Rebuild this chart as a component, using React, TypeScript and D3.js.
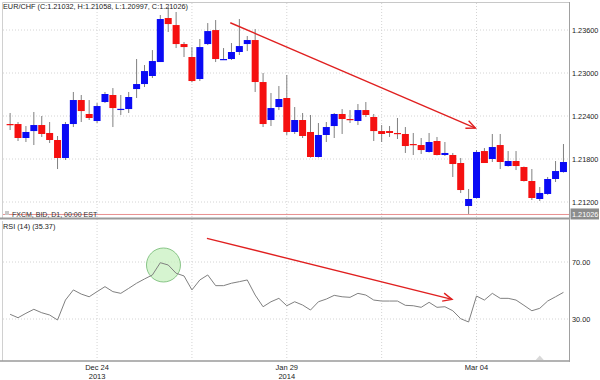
import React from "react";
import * as d3 from "d3";

const opens = [1.22288,1.22288,1.22093,1.2219,1.22274,1.22163,1.22065,1.21814,1.22288,1.22623,1.22428,1.2233,1.22595,1.22693,1.22495,1.22497,1.22776,1.22846,1.22958,1.23153,1.23767,1.23669,1.23404,1.23223,1.22916,1.23404,1.23599,1.2319,1.23195,1.23293,1.23404,1.2346,1.22874,1.22344,1.22525,1.22651,1.22177,1.22344,1.22177,1.21828,1.22135,1.2226,1.22428,1.22358,1.2233,1.22483,1.22386,1.2219,1.2219,1.22163,1.22149,1.22009,1.21995,1.21898,1.22051,1.21856,1.21856,1.21744,1.21144,1.21256,1.21911,1.218,1.21995,1.21702,1.21772,1.21688,1.21493,1.21242,1.21312,1.21521,1.21618];
const highs = [1.22442,1.22316,1.2226,1.22456,1.224,1.22316,1.22121,1.22316,1.22735,1.22693,1.22623,1.22581,1.22735,1.2279,1.22693,1.22735,1.23195,1.23111,1.2332,1.23809,1.2392,1.23851,1.23432,1.23362,1.23474,1.23697,1.23739,1.23348,1.23418,1.23753,1.23516,1.23613,1.23,1.22721,1.22818,1.22972,1.22525,1.22442,1.22414,1.22302,1.22316,1.22442,1.22497,1.22483,1.22567,1.22595,1.22428,1.22274,1.2226,1.22372,1.22246,1.22163,1.22093,1.22163,1.22107,1.22037,1.21884,1.21814,1.21381,1.21925,1.21953,1.22149,1.22149,1.21911,1.21911,1.21695,1.2166,1.21409,1.21549,1.21772,1.22009];
const lows = [1.22204,1.22051,1.22037,1.21995,1.22107,1.22023,1.2166,1.21786,1.22246,1.22316,1.22344,1.22302,1.22581,1.22246,1.22414,1.22442,1.22651,1.22804,1.2293,1.23153,1.23572,1.23348,1.23223,1.2287,1.22888,1.2339,1.23153,1.23181,1.23181,1.23251,1.23306,1.22735,1.22246,1.2226,1.22483,1.22135,1.22149,1.22093,1.2182,1.2182,1.22037,1.22093,1.22149,1.22302,1.22274,1.22386,1.22051,1.22037,1.22107,1.22079,1.21884,1.21856,1.2187,1.2189,1.2185,1.21842,1.21549,1.21326,1.21033,1.2125,1.21744,1.21758,1.2166,1.21695,1.21646,1.21485,1.21228,1.21214,1.213,1.21479,1.2161];
const closes = [1.22281,1.22093,1.22177,1.22274,1.22149,1.22065,1.21814,1.22288,1.22623,1.22469,1.22372,1.22539,1.22707,1.22511,1.225,1.22665,1.22846,1.23027,1.23167,1.23753,1.23683,1.23404,1.23362,1.22888,1.23362,1.23585,1.23195,1.23195,1.23293,1.23376,1.2346,1.22874,1.22288,1.22511,1.22637,1.22177,1.22344,1.22121,1.21828,1.22135,1.22246,1.22428,1.22358,1.22352,1.22483,1.22414,1.2219,1.22149,1.22163,1.22149,1.21981,1.21995,1.21925,1.22037,1.21856,1.21884,1.2173,1.21367,1.21242,1.21898,1.21744,1.21967,1.21758,1.21772,1.21702,1.21493,1.21256,1.21326,1.21521,1.21632,1.21758];
const rsi = [33.3,30.9,34.0,36.8,34.4,32.8,29.3,43.3,50.4,47.5,45.6,49.2,52.7,49.2,48.0,51.5,55.1,58.1,60.9,69.5,67.9,62.1,60.2,50.4,57.4,60.9,53.4,53.4,55.1,56.2,57.4,46.8,38.6,42.1,44.5,39.3,42.1,39.8,36.3,42.1,44.0,46.6,45.6,45.2,48.0,46.8,43.3,42.6,42.6,42.6,39.6,39.3,38.2,41.7,38.2,38.6,35.8,30.2,27.9,46.1,43.3,48.0,44.5,44.5,43.3,39.6,35.8,37.5,42.6,45.6,48.7];

const priceTicks = [1.212, 1.218, 1.224, 1.23, 1.236];
const rsiTicks = [30, 70];
const gridIdx = [11, 23, 35, 47, 59];
const xTickIdx = [11, 35, 59];
const xTickLabels = ["Dec 24", "Jan 29", "Mar 04"];
const xTickYears = ["2013", "2014", ""];
const lastPrice = 1.21026;
const titleText = "EUR/CHF (C:1.21032, H:1.21058, L:1.20997, C:1.21026)";
const rsiTitle = "RSI (14)  (35.37)";
const sourceText = "FXCM, BID, D1, 00:00 EST";

// annotation anchors in data space: [barIndex, value]
const priceArrow = [[27.85, 1.23701], [58.86, 1.22232]];
const rsiArrow = [[24.9, 86.6], [55.9, 43.8]];
const circleAt = [19.4, 67.9];

const FONT = "'Liberation Sans', Arial, sans-serif";

function Arrow({ x1, y1, x2, y2 }: any) {
  const a = Math.atan2(y2 - y1, x2 - x1);
  const L = 10, sp = 0.42;
  const p1 = [x2 - L * Math.cos(a - sp), y2 - L * Math.sin(a - sp)];
  const p2 = [x2 - L * Math.cos(a + sp), y2 - L * Math.sin(a + sp)];
  return (
    <g stroke="#e02020" strokeWidth={1.4} fill="none">
      <line x1={x1} y1={y1} x2={x2} y2={y2} />
      <polyline points={`${p1[0]},${p1[1]} ${x2},${y2} ${p2[0]},${p2[1]}`} />
    </g>
  );
}

export default function App() {
  const x = d3.scaleLinear().domain([-0.9, 70.7]).range([3, 569]);
  const yP = d3.scaleLinear().domain([1.212, 1.236]).range([202, 30]);
  const yR = d3.scaleLinear().domain([30, 70]).range([319, 262]);
  const rsiLine = d3.line<number>().x((_, i) => x(i)).y((d) => yR(d));
  const fmt = d3.format(".5f");
  const bw = 7;

  return (
    <svg width={600} height={380} style={{ position: "absolute", left: 0, top: 0, background: "#fff" }} fontFamily={FONT}>
      <rect x={0} y={0} width={600} height={380} fill="#fff" />
      {/* borders */}
      <line x1={2.5} y1={2.5} x2={569} y2={2.5} stroke="#c8c8c8" />
      <line x1={2.5} y1={2.5} x2={2.5} y2={218} stroke="#d0d0d0" />
      <line x1={2.5} y1={221} x2={2.5} y2={361} stroke="#d0d0d0" />
      {/* grid */}
      {gridIdx.map((g) => (
        <line key={"vg" + g} x1={x(g)} x2={x(g)} y1={3} y2={360} stroke="#d4d4d4" strokeDasharray="1,2" />
      ))}
      {priceTicks.map((t) => (
        <line key={"hg" + t} x1={3} x2={569} y1={yP(t)} y2={yP(t)} stroke="#d4d4d4" strokeDasharray="1,2" />
      ))}
      {rsiTicks.map((t) => (
        <line key={"rg" + t} x1={3} x2={569} y1={yR(t)} y2={yR(t)} stroke="#d4d4d4" strokeDasharray="1,2" />
      ))}
      {/* last price line */}
      <line x1={3} x2={569} y1={yP(lastPrice)} y2={yP(lastPrice)} stroke="#e89090" strokeWidth={1} />
      {/* candles */}
      {opens.map((o, i) => {
        const c = closes[i];
        const up = c >= o;
        const yt = yP(Math.max(o, c));
        const yb = yP(Math.min(o, c));
        return (
          <g key={"c" + i}>
            <line x1={x(i)} x2={x(i)} y1={yP(highs[i])} y2={yP(lows[i])} stroke="#808080" strokeWidth={1} />
            <rect x={x(i) - bw / 2} y={yt} width={bw} height={Math.max(1.2, yb - yt)} fill={up ? "#0a0af5" : "#f51010"} />
          </g>
        );
      })}
      {/* panel separator */}
      <line x1={0} x2={569} y1={218.5} y2={218.5} stroke="#9a9a9a" strokeWidth={2} />
      {/* right axis */}
      <line x1={569.5} x2={569.5} y1={2} y2={362} stroke="#a0a0a0" strokeWidth={1} />
      {priceTicks.map((t) => (
        <text key={"pt" + t} x={572} y={yP(t) + 2.6} fontSize={7.3} fill="#222">{fmt(t)}</text>
      ))}
      <rect x={570.5} y={yP(lastPrice) - 6} width={28.5} height={11} fill="#8c8c8c" />
      <text x={572} y={yP(lastPrice) + 2.6} fontSize={7.3} fill="#fff">{fmt(lastPrice)}</text>
      {rsiTicks.map((t) => (
        <text key={"rt" + t} x={572} y={yR(t) + 2.6} fontSize={7.3} fill="#222">{d3.format(".2f")(t)}</text>
      ))}
      {/* titles */}
      <text x={3} y={9} fontSize={7.3} fill="#222">{titleText}</text>
      <rect x={5} y={211} width={4} height={4} fill="#c8c8c8" />
      <text x={12} y={216.5} fontSize={7} fill="#333">{sourceText}</text>
      <text x={3} y={229} fontSize={7.3} fill="#222">{rsiTitle}</text>
      {/* RSI */}
      <circle cx={x(circleAt[0])} cy={yR(circleAt[1])} r={17} fill="#c8f0c0" fillOpacity={0.75} stroke="#70b870" strokeWidth={0.8} />
      <path d={rsiLine(rsi) || ""} fill="none" stroke="#808080" strokeWidth={1} />
      {/* bottom axis */}
      <line x1={0} x2={569} y1={361} y2={361} stroke="#9a9a9a" strokeWidth={1.5} />
      <path d={`M${x(67) - 4},360 L${x(67)},355.5 L${x(67) + 4},360 Z`} fill="#d8d8d8" />
      {xTickIdx.map((t, k) => (
        <g key={"xt" + t}>
          <text x={x(t)} y={370} fontSize={7.5} textAnchor="middle" fill="#222">{xTickLabels[k]}</text>
          <text x={x(t)} y={379} fontSize={7.5} textAnchor="middle" fill="#222">{xTickYears[k]}</text>
        </g>
      ))}
      {/* arrows */}
      <Arrow x1={x(priceArrow[0][0])} y1={yP(priceArrow[0][1])} x2={x(priceArrow[1][0])} y2={yP(priceArrow[1][1])} />
      <Arrow x1={x(rsiArrow[0][0])} y1={yR(rsiArrow[0][1])} x2={x(rsiArrow[1][0])} y2={yR(rsiArrow[1][1])} />
    </svg>
  );
}
